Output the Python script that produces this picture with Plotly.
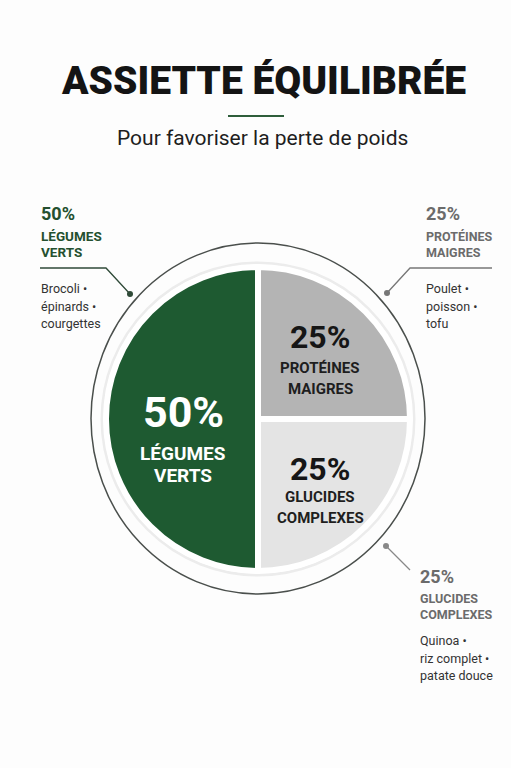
import plotly.graph_objects as go

W, H = 511, 768

# ---- data ----
categories = ["PROTÉINES MAIGRES", "GLUCIDES COMPLEXES", "LÉGUMES VERTS"]
cat_lines = [["PROTÉINES", "MAIGRES"], ["GLUCIDES", "COMPLEXES"], ["LÉGUMES", "VERTS"]]
values = [25, 25, 50]
examples = [["Poulet •", "poisson •", "tofu"],
            ["Quinoa •", "riz complet •", "patate douce"],
            ["Brocoli •", "épinards •", "courgettes"]]
title_text = "ASSIETTE ÉQUILIBRÉE"
subtitle_text = "Pour favoriser la perte de poids"

colors = ["#b4b4b4", "#e4e4e4", "#1e5a31"]
COND = "Roboto, Liberation Sans, sans-serif"
BODY = "Roboto, Inter, Noto Sans, sans-serif"

def px(x):
    return x / W

def py(y):
    return 1 - y / H

cx, cy, r = 258, 419, 152

fig = go.Figure(go.Pie(
    labels=categories, values=values, sort=False, direction="clockwise", rotation=0,
    marker=dict(colors=colors, line=dict(color="white", width=6)),
    textinfo="none", hoverinfo="label+percent", showlegend=False,
    domain=dict(x=[px(cx - r), px(cx + r)], y=[py(cy + r), py(cy - r)]),
))

shapes = []
# subtle plate rim
shapes.append(dict(type="circle", xref="paper", yref="paper",
                   x0=px(cx - r - 4), x1=px(cx + r + 4), y0=py(cy + r + 4), y1=py(cy - r - 4),
                   line=dict(color="#ececec", width=3), layer="below"))
# outer plate ring
shapes.append(dict(type="circle", xref="paper", yref="paper",
                   x0=px(91), x1=px(425), y0=py(594), y1=py(243),
                   line=dict(color="#4a4f4c", width=1.5), layer="below"))
# title underline
shapes.append(dict(type="line", xref="paper", yref="paper",
                   x0=px(228), x1=px(284), y0=py(116), y1=py(116),
                   line=dict(color="#2e5e3b", width=2)))

def leader(pts, color):
    path = "M " + " L ".join(f"{px(x)},{py(y)}" for x, y in pts)
    shapes.append(dict(type="path", xref="paper", yref="paper", path=path,
                       line=dict(color=color, width=1.3)))
    x, y = pts[-1]
    shapes.append(dict(type="circle", xref="paper", yref="paper",
                       x0=px(x - 3), x1=px(x + 3), y0=py(y + 3), y1=py(y - 3),
                       fillcolor=color, line=dict(width=0)))

leader([(40, 268), (106, 268), (130, 294)], "#2f4a38")
leader([(492, 268), (410, 268), (387, 293)], "#777777")
leader([(410, 570), (386, 546)], "#888888")

ann = []
def text(x, y, s, size, color, family=COND, weight=700, xanchor="center", yanchor="middle"):
    ann.append(dict(x=px(x), y=py(y), xref="paper", yref="paper", text=s, showarrow=False,
                    xanchor=xanchor, yanchor=yanchor, align="left" if xanchor == "left" else "center",
                    font=dict(family=family, size=size, color=color, weight=weight)))

def lines(x, ys, items, size, color, family=COND, weight=700, xanchor="left"):
    for y, s in zip(ys, items):
        text(x, y, s, size, color, family=family, weight=weight, xanchor=xanchor)

# title
text(263, 81, title_text, 39, "#141414", weight=900)
text(262, 138, subtitle_text, 21, "#1e1e1e", family=BODY, weight=400)

# inside labels
text(183, 412, f"{values[2]}%", 43, "#ffffff")
lines(183, [453, 475], cat_lines[2], 19, "#ffffff", xanchor="center")
text(320, 337, f"{values[0]}%", 32, "#161616")
lines(320, [368, 389], cat_lines[0], 15, "#1e1e1e", xanchor="center")
text(320, 469, f"{values[1]}%", 32, "#161616")
lines(320, [497, 518], cat_lines[1], 15, "#1e1e1e", xanchor="center")

# outer callouts
text(39, 214, f"{values[2]}%", 18, "#24502f", xanchor="left")
lines(39, [236, 252], cat_lines[2], 13.5, "#24502f")
lines(39, [288, 306, 323], examples[2], 12.5, "#333333", family=BODY, weight=400)

text(424, 214, f"{values[0]}%", 18, "#6b6b6b", xanchor="left")
lines(424, [236, 252], cat_lines[0], 12.5, "#6b6b6b")
lines(424, [288, 306, 323], examples[0], 12.5, "#333333", family=BODY, weight=400)

text(418, 576, f"{values[1]}%", 18, "#6b6b6b", xanchor="left")
lines(418, [598, 614], cat_lines[1], 12.5, "#6b6b6b")
lines(418, [640, 658, 675], examples[1], 12.5, "#333333", family=BODY, weight=400)

fig.update_layout(width=W, height=H, margin=dict(l=0, r=0, t=0, b=0),
                  paper_bgcolor="#fdfdfd", plot_bgcolor="#fdfdfd",
                  shapes=shapes, annotations=ann)
fig.write_html("out.html", config={"displayModeBar": False},
               post_script="document.body.style.margin='0';")
